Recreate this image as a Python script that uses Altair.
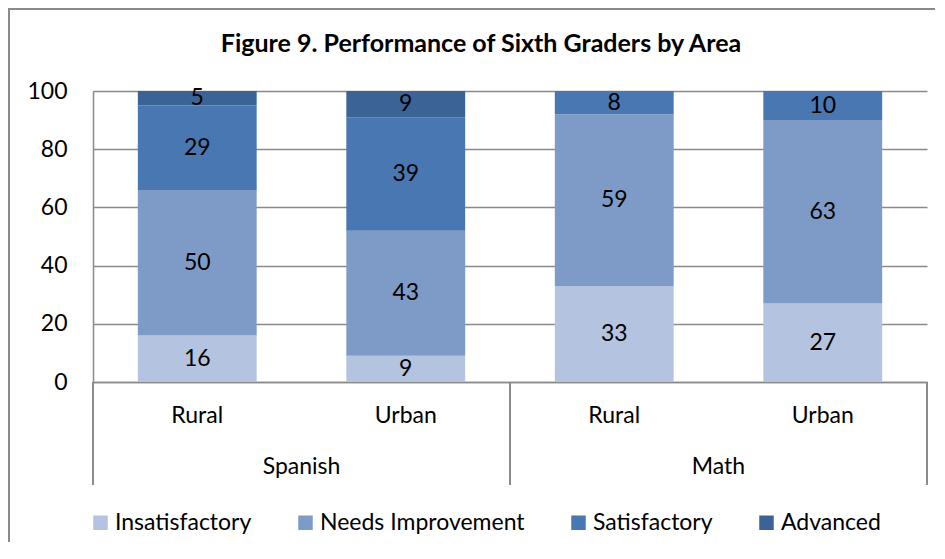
import altair as alt
import pandas as pd

title_text = "Figure 9. Performance of Sixth Graders by Area"
subjects = ["Spanish", "Spanish", "Math", "Math"]
areas = ["Rural", "Urban", "Rural", "Urban"]
levels = ["Insatisfactory", "Needs Improvement", "Satisfactory", "Advanced"]
insatisfactory = [16, 9, 33, 27]
needs_improvement = [50, 43, 59, 63]
satisfactory = [29, 39, 8, 10]
advanced = [5, 9, 0, 0]
colors = ["#b4c3df", "#7e9bc8", "#4877b1", "#3b6395"]
y_ticks = [0, 20, 40, 60, 80, 100]

FONT = "Lato"
FS = 23
W, H = 834, 291
GRAY = "#8a8a8a"

series = [insatisfactory, needs_improvement, satisfactory, advanced]
rows = []
for li, (lvl, vals) in enumerate(zip(levels, series)):
    for ci in range(len(areas)):
        rows.append({"slot": ci, "subject": subjects[ci], "area": areas[ci],
                     "level": lvl, "order": li, "value": vals[ci]})
df = pd.DataFrame(rows)

# group centres and boundaries derived from the subject list
groups = []
bounds = [0]
start = 0
for i in range(1, len(subjects) + 1):
    if i == len(subjects) or subjects[i] != subjects[start]:
        groups.append({"subject": subjects[start], "center": (start + i) / 2})
        bounds.append(i)
        start = i
groups_df = pd.DataFrame(groups)
bounds_df = pd.DataFrame({"b": bounds})
cats_df = pd.DataFrame({"area": areas, "pos": [i + 0.5 for i in range(len(areas))]})

x_scale = alt.Scale(domain=[0, len(areas)], nice=False, zero=False)
y_scale = alt.Scale(domain=[0, 100], nice=False)
x_axis = alt.Axis(values=[], domain=True, domainColor=GRAY, domainWidth=1.5,
                  ticks=False, grid=False, labels=False, title=None)
y_axis = alt.Axis(values=y_ticks, domain=True, domainColor=GRAY, domainWidth=1.5,
                  ticks=False, grid=True, gridColor=GRAY, gridWidth=1.5,
                  labelFontSize=FS, labelFont=FONT, labelColor="black",
                  labelPadding=26, title=None)

base = (alt.Chart(df)
        .transform_filter("datum.value > 0")
        .transform_stack(stack="value", groupby=["slot"],
                         sort=[alt.SortField("order", order="ascending")],
                         as_=["y0", "y1"])
        .transform_calculate(xl="datum.slot + 0.5 - 0.285",
                             xr="datum.slot + 0.5 + 0.285",
                             xc="datum.slot + 0.5",
                             ym="(datum.y0 + datum.y1) / 2"))

bars = base.mark_bar().encode(
    x=alt.X("xl:Q", scale=x_scale, axis=x_axis),
    x2="xr:Q",
    y=alt.Y("y0:Q", scale=y_scale, axis=y_axis),
    y2="y1:Q",
    color=alt.Color("level:N", scale=alt.Scale(domain=levels, range=colors),
                    legend=alt.Legend(orient="none", legendX=-4, legendY=420,
                                      direction="horizontal", columns=4, title=None,
                                      symbolType="square", symbolSize=210,
                                      symbolStrokeWidth=0, labelFontSize=FS,
                                      labelFont=FONT, labelColor="black",
                                      labelLimit=400,
                                      columnPadding=42, labelOffset=3)),
    tooltip=["subject:N", "area:N", "level:N", "value:Q"],
)

labels = base.mark_text(fontSize=FS, font=FONT, color="black").encode(
    x=alt.X("xc:Q", scale=x_scale, axis=x_axis),
    y=alt.Y("ym:Q", scale=y_scale, axis=y_axis),
    text="value:Q",
)

cat_text = alt.Chart(cats_df).mark_text(fontSize=FS, font=FONT, color="black").encode(
    x=alt.X("pos:Q", scale=x_scale, axis=x_axis),
    y=alt.value(H + 34),
    text="area:N",
)

group_text = alt.Chart(groups_df).mark_text(fontSize=FS, font=FONT, color="black").encode(
    x=alt.X("center:Q", scale=x_scale, axis=x_axis),
    y=alt.value(H + 85),
    text="subject:N",
)

dividers = alt.Chart(bounds_df).mark_rule(color=GRAY, strokeWidth=2).encode(
    x=alt.X("b:Q", scale=x_scale, axis=x_axis),
    y=alt.value(H),
    y2=alt.value(H + 103),
)

frame = alt.Chart(pd.DataFrame({"f": [0]})).mark_rect(
    fillOpacity=0, stroke=GRAY, strokeWidth=2).encode(
    x=alt.value(-84), x2=alt.value(W + 80),
    y=alt.value(-82), y2=alt.value(H + 260),
)

title = alt.Chart(pd.DataFrame({"t": [title_text]})).mark_text(
    font=FONT, fontSize=25, fontWeight="bold", color="black",
    align="center", baseline="middle").encode(
    x=alt.value(388), y=alt.value(-47), text="t:N",
)

chart = alt.layer(frame, dividers, bars, labels, cat_text, group_text, title).properties(
    width=W, height=H,
    padding={"left": 85, "top": 83, "right": 8, "bottom": 160},
    autosize=alt.AutoSizeParams(type="none"),
).configure_view(stroke=None)

chart.save("out.html", embed_options={"renderer": "svg", "actions": False})
